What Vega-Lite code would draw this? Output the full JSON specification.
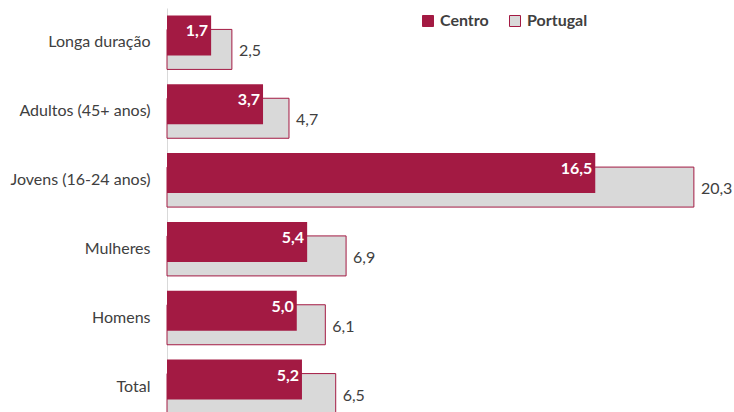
{
  "$schema": "https://vega.github.io/schema/vega-lite/v6.json",
  "width": 571,
  "height": 413,
  "autosize": "none",
  "padding": {"left": 167, "top": 8, "right": 0, "bottom": 0},
  "background": "white",
  "config": {
    "locale": {"number": {"decimal": ",", "thousands": ".", "grouping": [3], "currency": ["", " €"]}},
    "view": {"stroke": null},
    "font": "Lato"
  },
  "data": {
    "values": [
      {"categoria": "Longa duração", "serie": "Centro", "valor": 1.7},
      {"categoria": "Longa duração", "serie": "Portugal", "valor": 2.5},
      {"categoria": "Adultos (45+ anos)", "serie": "Centro", "valor": 3.7},
      {"categoria": "Adultos (45+ anos)", "serie": "Portugal", "valor": 4.7},
      {"categoria": "Jovens (16-24 anos)", "serie": "Centro", "valor": 16.5},
      {"categoria": "Jovens (16-24 anos)", "serie": "Portugal", "valor": 20.3},
      {"categoria": "Mulheres", "serie": "Centro", "valor": 5.4},
      {"categoria": "Mulheres", "serie": "Portugal", "valor": 6.9},
      {"categoria": "Homens", "serie": "Centro", "valor": 5.0},
      {"categoria": "Homens", "serie": "Portugal", "valor": 6.1},
      {"categoria": "Total", "serie": "Centro", "valor": 5.2},
      {"categoria": "Total", "serie": "Portugal", "valor": 6.5}
    ]
  },
  "encoding": {
    "y": {
      "field": "categoria",
      "type": "nominal",
      "sort": ["Longa duração", "Adultos (45+ anos)", "Jovens (16-24 anos)", "Mulheres", "Homens", "Total"],
      "scale": {"paddingInner": 0, "paddingOuter": 0},
      "axis": {
        "title": null,
        "domainColor": "#D9D9D9",
        "domainWidth": 1,
        "ticks": false,
        "labelFontSize": 16,
        "labelColor": "#404040",
        "labelPadding": 17,
        "labelFont": "Lato",
        "labelLimit": 200
      }
    },
    "x": {
      "field": "valor",
      "type": "quantitative",
      "scale": {"domain": [0, 22]},
      "axis": null
    }
  },
  "layer": [
    {
      "transform": [{"filter": "datum.serie === 'Portugal'"}],
      "mark": {"type": "bar", "size": 40, "yOffset": 7, "stroke": "#A31A43", "strokeWidth": 1},
      "encoding": {
        "color": {
          "field": "serie",
          "type": "nominal",
          "scale": {"domain": ["Centro", "Portugal"], "range": ["#A31A43", "#D9D9D9"]},
          "legend": {
            "orient": "none",
            "legendX": 253,
            "legendY": 5,
            "direction": "horizontal",
            "title": null,
            "padding": 0,
            "symbolType": "square",
            "symbolSize": 121,
            "symbolStrokeColor": "#A31A43",
            "symbolStrokeWidth": 1,
            "symbolOpacity": 1,
            "labelFont": "Lato",
            "labelFontSize": 16,
            "labelFontWeight": "bold",
            "labelColor": "#404040",
            "labelOffset": 4,
            "columnPadding": 18
          }
        }
      }
    },
    {
      "transform": [{"filter": "datum.serie === 'Centro'"}],
      "mark": {"type": "bar", "size": 40, "yOffset": -7},
      "encoding": {
        "color": {"field": "serie", "type": "nominal"}
      }
    },
    {
      "transform": [{"filter": "datum.serie === 'Centro'"}],
      "mark": {"type": "text", "align": "right", "baseline": "middle", "dx": -3, "yOffset": -11, "fontWeight": "bold", "fontSize": 16, "fill": "white"},
      "encoding": {
        "text": {"field": "valor", "type": "quantitative", "format": ".1f"}
      }
    },
    {
      "transform": [{"filter": "datum.serie === 'Portugal'"}],
      "mark": {"type": "text", "align": "left", "baseline": "middle", "dx": 7, "yOffset": 9, "fontSize": 16, "fill": "#404040"},
      "encoding": {
        "text": {"field": "valor", "type": "quantitative", "format": ".1f"}
      }
    }
  ]
}
